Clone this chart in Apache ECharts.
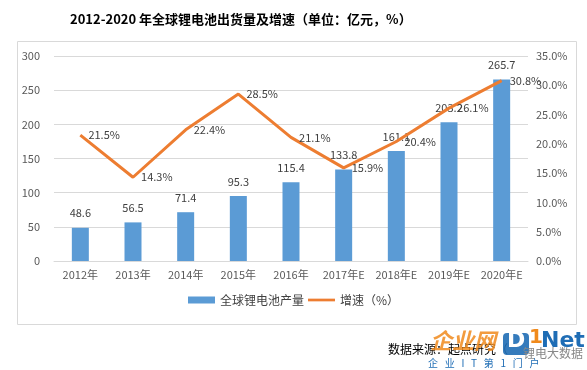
<!DOCTYPE html>
<html><head><meta charset="utf-8">
<script src="https://cdn.jsdelivr.net/npm/echarts@6/dist/echarts.min.js"></script>
<style>html,body{margin:0;padding:0;background:#fff}#c{width:587px;height:370px}</style>
</head><body><div id="c"></div>
<script>
const categories = ['2012年','2013年','2014年','2015年','2016年','2017年E','2018年E','2019年E','2020年E'];
const shipments = [48.6, 56.5, 71.4, 95.3, 115.4, 133.8, 161.1, 203.2, 265.7];
const growth = [21.5, 14.3, 22.4, 28.5, 21.1, 15.9, 20.4, 26.1, 30.8];
const leftTicks = [0, 300, 50];
const rightTicks = [0, 35, 5];

const F = '"Noto Sans CJK SC", "Microsoft YaHei", sans-serif';
const chart = echarts.init(document.getElementById('c'));
chart.setOption({
  animation: false,
  textStyle: {fontFamily: F},
  title: {
    text: '2012-2020 年全球锂电池出货量及增速（单位：亿元，%）',
    left: 65, top: 8,
    textStyle: {fontFamily: F, fontSize: 13, fontWeight: 'bold', color: '#000'}
  },
  grid: {left: 54, right: 59, top: 56, bottom: 109},
  legend: {
    bottom: 59, left: 'center', itemGap: 4, itemWidth: 27, itemHeight: 7,
    textStyle: {fontFamily: F, fontSize: 12, color: '#404040'},
    data: [
      {name: '全球锂电池产量', icon: 'rect'},
      {name: '增速（%）', icon: 'path://M0,0 H30 V3 H0 Z'}
    ]
  },
  xAxis: {
    type: 'category', data: categories,
    axisLine: {lineStyle: {color: '#d9d9d9'}},
    axisTick: {show: false},
    axisLabel: {color: '#595959', fontSize: 11, margin: 8, interval: 0}
  },
  yAxis: [
    {type: 'value', min: leftTicks[0], max: leftTicks[1], interval: leftTicks[2],
     axisLine: {show: false}, axisTick: {show: false},
     axisLabel: {color: '#595959', fontSize: 11, margin: 14},
     splitLine: {lineStyle: {color: '#d9d9d9'}}},
    {type: 'value', min: rightTicks[0], max: rightTicks[1], interval: rightTicks[2],
     axisLine: {show: false}, axisTick: {show: false},
     axisLabel: {color: '#595959', fontSize: 11, margin: 8, formatter: v => v.toFixed(1) + '%'},
     splitLine: {show: false}}
  ],
  series: [
    {name: '全球锂电池产量', type: 'bar', data: shipments, barWidth: 17,
     itemStyle: {color: '#5B9BD5'},
     label: {show: true, position: 'top', distance: 9, color: '#404040', fontSize: 11}},
    {name: '增速（%）', type: 'line', yAxisIndex: 1, data: growth,
     symbol: 'circle', symbolSize: 0.1, showSymbol: true,
     lineStyle: {color: '#ED7D31', width: 3},
     itemStyle: {color: '#ED7D31'},
     label: {show: true, position: 'right', distance: 8, color: '#404040', fontSize: 11,
             formatter: p => p.value + '%'}}
  ],
  graphic: [
    {type: 'rect', shape: {x: 17.5, y: 41.5, width: 559, height: 283},
     style: {fill: 'none', stroke: '#d9d9d9', lineWidth: 1}, z: -1},
    {type: 'text', left: 388, top: 343,
     style: {text: '数据来源：起点研究（', fill: '#000', font: '12px ' + F}},
    {type: 'text', left: 430, top: 330,
     style: {text: '企业网', fill: '#F08A1C', font: 'italic bold 22px ' + F, opacity: 0.85}},
    {type: 'rect', shape: {x: 503, y: 333, width: 26, height: 22, r: 4},
     style: {fill: '#1F6DB5', opacity: 0.9}},
    {type: 'text', left: 507, top: 330,
     style: {text: 'D', fill: '#fff', font: 'bold 22px "DejaVu Sans", sans-serif'}},
    {type: 'text', left: 529, top: 328,
     style: {text: '1', fill: '#F08A1C', font: 'bold 20px "DejaVu Sans", sans-serif'}},
    {type: 'text', left: 541, top: 330,
     style: {text: 'Net', fill: '#1F6DB5', font: 'bold 22px "DejaVu Sans", sans-serif'}},
    {type: 'text', left: 523, top: 347,
     style: {text: '锂电大数据', fill: '#888', font: '12px ' + F}},
    {type: 'text', left: 428, top: 358,
     style: {text: '企   业   I   T   第   1   门   户', fill: '#1F6DB5', font: '10px ' + F}}
  ]
});
</script></body></html>
